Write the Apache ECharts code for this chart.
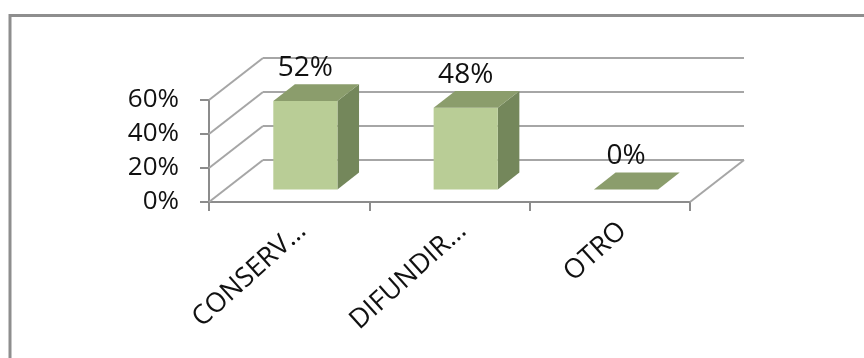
<!DOCTYPE html>
<html>
<head>
<meta charset="utf-8">
<script src="https://cdn.jsdelivr.net/npm/echarts@6/dist/echarts.min.js"></script>
<style>
  html, body { margin: 0; padding: 0; background: #ffffff; }
  #chart { width: 864px; height: 358px; }
</style>
</head>
<body>
<div id="chart"></div>
<script>
// ---- data ----
const categories = ['CONSERV\u2026', 'DIFUNDIR\u2026', 'OTRO'];
const values = [52, 48, 0];
const yTicks = [0, 20, 40, 60];

// ---- style / layout constants ----
const DX = 54, DY = -42;          // 3D depth offset of the back wall (px)
const F0 = 0.3, F1 = 0.7;         // bar depth position (fraction of depth)
const BAR_W = 0.4;                // bar width as fraction of category width
const COLORS = { front: '#b9cd96', top: '#8b9d6c', side: '#74875b' };
const GRID_COLOR = '#a6a6a6';
const AXIS_COLOR = '#8c8c8c';
const FONT = 'Open Sans';

const chart = echarts.init(document.getElementById('chart'), null, { renderer: 'canvas' });

function renderWalls(params, api) {
  const cs = params.coordSys;
  const x0 = cs.x, x1 = cs.x + cs.width;
  const children = [];
  const lineStyle = { stroke: GRID_COLOR, lineWidth: 2, fill: null };
  yTicks.forEach(v => {
    const y = api.coord([0, v])[1];
    children.push({ type: 'line', shape: { x1: x0, y1: y, x2: x0 + DX, y2: y + DY }, style: lineStyle });
    children.push({ type: 'line', shape: { x1: x0 + DX, y1: y + DY, x2: x1 + DX, y2: y + DY }, style: lineStyle });
  });
  const yb = api.coord([0, yTicks[0]])[1];
  children.push({ type: 'line', shape: { x1: x1, y1: yb, x2: x1 + DX, y2: yb + DY }, style: lineStyle });
  return { type: 'group', children };
}

function renderBar(params, api) {
  const i = api.value(0), v = api.value(1);
  const base = api.coord([i, 0]);
  const top = api.coord([i, v]);
  const bw = api.size([1, 0])[0] * BAR_W;
  const fx = base[0] + F0 * DX;
  const yBot = base[1] + F0 * DY;
  const yTop = top[1] + F0 * DY;
  const ddx = (F1 - F0) * DX, ddy = (F1 - F0) * DY;
  const L = fx - bw / 2, R = fx + bw / 2;
  return {
    type: 'group',
    children: [
      { type: 'polygon', shape: { points: [[R, yTop], [R + ddx, yTop + ddy], [R + ddx, yBot + ddy], [R, yBot]] },
        style: { fill: COLORS.side } },
      { type: 'rect', shape: { x: L, y: yTop, width: bw, height: yBot - yTop },
        style: { fill: COLORS.front } },
      { type: 'polygon', shape: { points: [[L, yTop], [R, yTop], [R + ddx, yTop + ddy], [L + ddx, yTop + ddy]] },
        style: { fill: COLORS.top } },
      { type: 'text', style: { x: fx, y: yTop - 33, text: v + '%', align: 'center', verticalAlign: 'middle',
          fill: '#111111', font: '28px "' + FONT + '"' } }
    ]
  };
}

const option = {
  backgroundColor: '#ffffff',
  animation: false,
  graphic: [{
    type: 'rect', shape: { x: 10, y: 15.5, width: 900, height: 400 },
    style: { fill: null, stroke: '#8e8e8e', lineWidth: 3 }, z: -10
  }],
  grid: [
    { left: 209, right: 174, top: 100, bottom: 156 },
    { left: 222, right: 161, top: 100, bottom: 156 }
  ],
  xAxis: [
    {
      type: 'category', gridIndex: 0, data: categories, boundaryGap: true,
      axisLine: { show: true, lineStyle: { color: AXIS_COLOR, width: 2 } },
      axisTick: { show: true, length: 9, lineStyle: { color: AXIS_COLOR, width: 2 } },
      axisLabel: { show: false }, splitLine: { show: false }
    },
    {
      type: 'category', gridIndex: 1, data: categories, boundaryGap: true,
      axisLine: { show: false }, axisTick: { show: false },
      axisLabel: { show: true, rotate: 42, interval: 0, margin: 25, color: '#111111',
        fontFamily: FONT, fontSize: 27 }
    }
  ],
  yAxis: [
    {
      type: 'value', gridIndex: 0, min: yTicks[0], max: yTicks[yTicks.length - 1], interval: yTicks[1] - yTicks[0],
      axisLine: { show: true, lineStyle: { color: AXIS_COLOR, width: 2 } },
      axisTick: { show: true, length: 9, lineStyle: { color: AXIS_COLOR, width: 2 } },
      splitLine: { show: false },
      axisLabel: { formatter: '{value}%', margin: 30, color: '#111111', fontFamily: FONT, fontSize: 26 }
    },
    {
      type: 'value', gridIndex: 1, min: yTicks[0], max: yTicks[yTicks.length - 1], show: false
    }
  ],
  series: [
    { type: 'custom', xAxisIndex: 0, yAxisIndex: 0, renderItem: renderWalls, data: [[0, 0]], z: 1, silent: true },
    { type: 'custom', xAxisIndex: 0, yAxisIndex: 0, renderItem: renderBar,
      data: values.map((v, i) => [i, v]), encode: { x: 0, y: 1 }, z: 2 }
  ]
};
chart.setOption(option);
</script>
</body>
</html>
